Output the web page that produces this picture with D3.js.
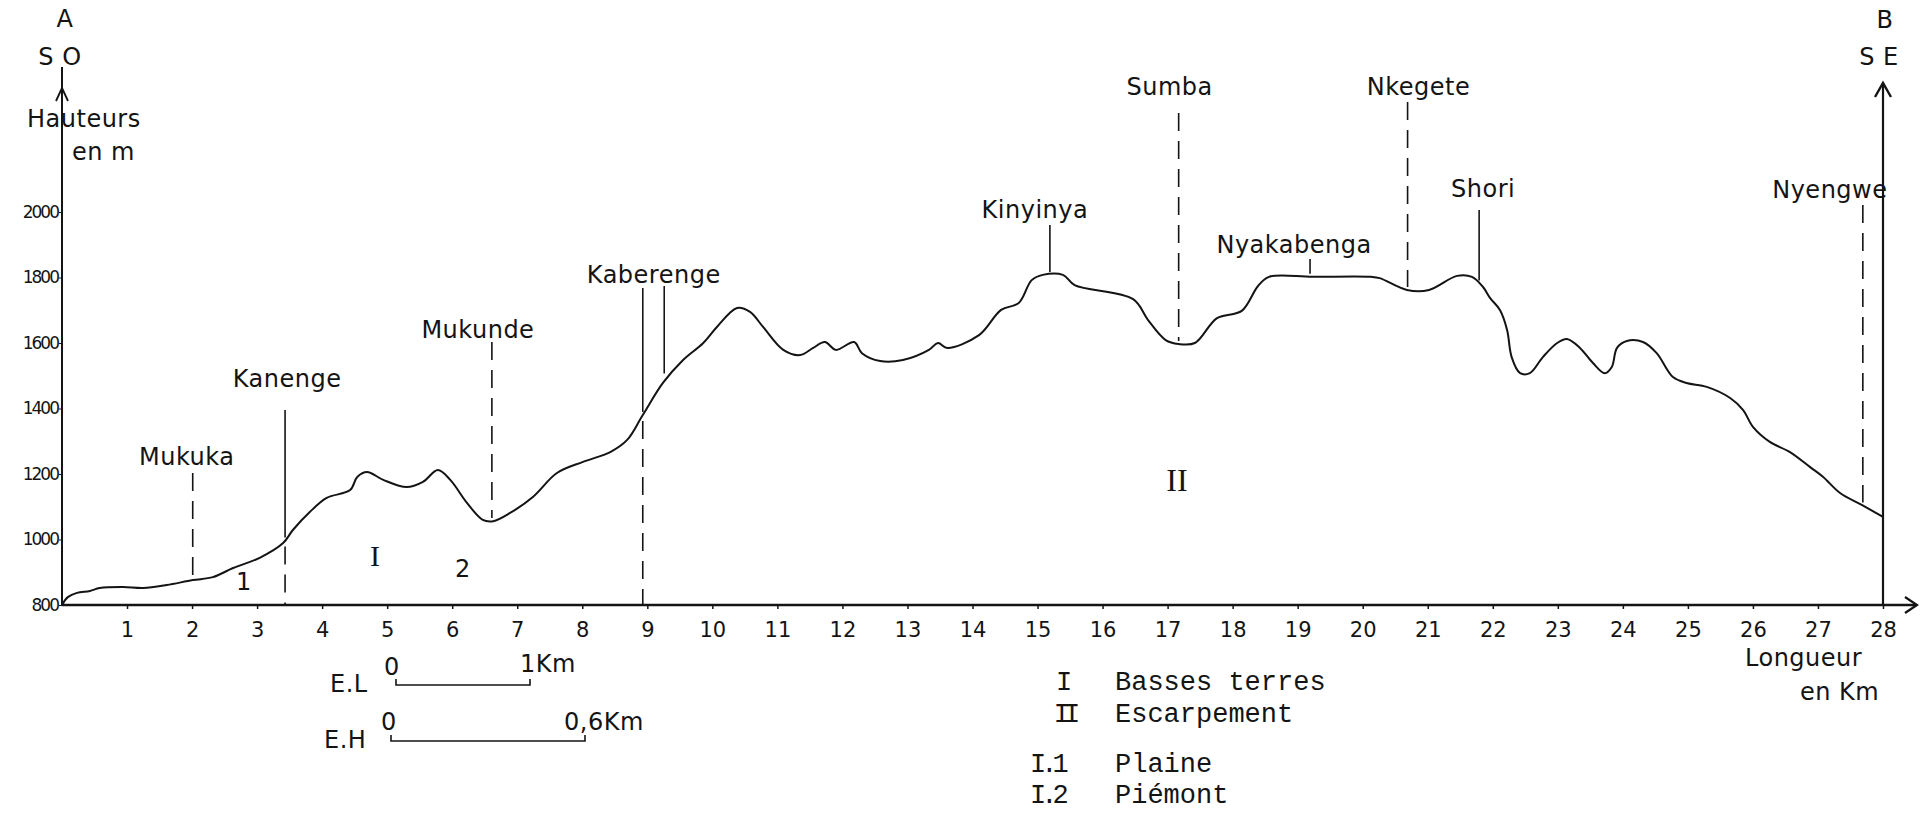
<!DOCTYPE html>
<html>
<head>
<meta charset="utf-8">
<title>Profil topographique A - B</title>
<script src="https://cdn.jsdelivr.net/npm/d3@7"></script>
<style>
  body { margin: 0; background: #fff; }
  svg { display: block; }
  .lettre { font-family: "DejaVu Sans", sans-serif; font-size: 24px; letter-spacing: 0.5px; fill: #141414; }
  .typo { font-family: "Liberation Mono", monospace; font-size: 27px; fill: #141414; }
  .romain { font-family: "Liberation Serif", serif; fill: #141414; }
  .axe text { font-family: "DejaVu Sans", sans-serif; fill: #141414; }
</style>
</head>
<body>
<svg width="1929" height="817"></svg>
<script>
// Profile A (SO) -> B (SE): distance in km, altitude in m
var distances = [0, 0.09, 0.23, 0.43, 0.58, 0.94, 1.25, 1.61, 2.01, 2.32, 2.63, 3.04, 3.40, 3.55, 3.81,
  4.07, 4.43, 4.54, 4.69, 4.94, 5.30, 5.55, 5.78, 5.97, 6.23, 6.47, 6.63, 6.89, 7.24, 7.61,
  8.01, 8.43, 8.69, 8.93, 9.24, 9.55, 9.86, 10.07, 10.38, 10.58, 10.78, 11.09, 11.35, 11.55, 11.73,
  11.90, 12.18, 12.30, 12.58, 12.93, 13.33, 13.47, 13.61, 14.10, 14.44, 14.71, 14.91, 15.08, 15.39,
  15.57, 16.47, 16.70, 16.97, 17.17, 17.42, 17.76, 18.14, 18.39, 18.56, 19.23, 20.13, 20.26, 20.68,
  21.02, 21.45, 21.68, 21.85, 21.96, 22.11, 22.22, 22.29, 22.42, 22.57, 22.77, 22.99, 23.14, 23.34,
  23.54, 23.72, 23.83, 23.91, 24.06, 24.31, 24.52, 24.77, 24.98, 25.29, 25.65, 25.85, 26.00, 26.26,
  26.57, 26.88, 27.08, 27.34, 27.68, 28.00];
var altitudes = [800, 824, 837, 843, 852, 855, 852, 861, 876, 885, 913, 944, 989, 1029, 1084,
  1127, 1151, 1191, 1206, 1182, 1160, 1176, 1212, 1182, 1111, 1060, 1056, 1081, 1130, 1203,
  1237, 1267, 1304, 1380, 1478, 1548, 1600, 1649, 1707, 1695, 1649, 1579, 1563, 1585, 1603,
  1579, 1603, 1569, 1545, 1548, 1579, 1600, 1585, 1624, 1701, 1722, 1792, 1808, 1808,
  1777, 1734, 1670, 1609, 1597, 1600, 1676, 1698, 1774, 1802, 1802, 1802, 1798, 1762,
  1762, 1805, 1802, 1771, 1737, 1701, 1640, 1557, 1508, 1508, 1557, 1600, 1612, 1585,
  1539, 1508, 1527, 1585, 1606, 1603, 1569, 1496, 1478, 1466, 1432, 1395, 1344, 1298,
  1267, 1221, 1191, 1142, 1105, 1069];

var xTicks = d3.range(1, 29);
var yTicks = [800, 1000, 1200, 1400, 1600, 1800, 2000];

// named places along the section
var sites = ["Mukuka", "Kanenge", "Mukunde", "Kaberenge", "Kinyinya", "Sumba", "Nyakabenga", "Nkegete", "Shori", "Nyengwe"];
var siteKm = [2.01, 3.43, 6.61, 8.93, 15.19, 17.17, 19.19, 20.69, 21.79, 27.69];
var extraKm = [9.26]; // second Kaberenge mark

var legendCodes = ["I", "II", "I.1", "I.2"];
var legendTexts = ["Basses terres", "Escarpement", "Plaine", "Piémont"];

// label placement (pixels): dx from mark, label baseline, top of mark, line kind
var siteLayout = {
  "Mukuka":     { dx: -6,  ly: 465, top: 473, kind: "dash" },
  "Kanenge":    { dx: 2,   ly: 387, top: 410, kind: "solid-dash" },
  "Mukunde":    { dx: -14, ly: 338, top: 342, kind: "dash" },
  "Kaberenge":  { dx: 11,  ly: 283, top: 288, kind: "solid-dash" },
  "Kinyinya":   { dx: -15, ly: 218, top: 225, kind: "solid" },
  "Sumba":      { dx: -9,  ly: 95,  top: 113, kind: "dash" },
  "Nyakabenga": { dx: -16, ly: 253, top: 259, kind: "solid" },
  "Nkegete":    { dx: 11,  ly: 95,  top: 102, kind: "dash" },
  "Shori":      { dx: 4,   ly: 197, top: 210, kind: "solid" },
  "Nyengwe":    { dx: -33, ly: 198, top: 205, kind: "dash" }
};

var svg = d3.select("svg");
var ink = "#141414";

var x = d3.scaleLinear().domain([0, 28]).range([62, 1883]);
var y = d3.scaleLinear().domain([800, 2000]).range([605, 212]);

function altAt(km) {
  var i = d3.bisectLeft(distances, km);
  if (i <= 0) return altitudes[0];
  if (i >= distances.length) return altitudes[altitudes.length - 1];
  var t = (km - distances[i - 1]) / (distances[i] - distances[i - 1]);
  return altitudes[i - 1] + t * (altitudes[i] - altitudes[i - 1]);
}

// x axis (ticks + labels), domain drawn by hand with an arrow
var gx = svg.append("g").attr("class", "axe")
    .attr("transform", "translate(0," + y(800) + ")")
    .call(d3.axisBottom(x).tickValues(xTicks).tickSize(4).tickPadding(13).tickFormat(d3.format("d")));
gx.select(".domain").remove();
gx.selectAll("line").attr("stroke", ink).attr("stroke-width", 1.5);
gx.selectAll("text").attr("font-size", 21);

svg.append("line").attr("x1", x(0)).attr("x2", 1917).attr("y1", y(800)).attr("y2", y(800))
  .attr("stroke", ink).attr("stroke-width", 2.5);
svg.append("path").attr("d", "M1905,597 L1917,605 L1905,613")
  .attr("fill", "none").attr("stroke", ink).attr("stroke-width", 2.2);

// y axis left
var gy = svg.append("g").attr("class", "axe")
    .attr("transform", "translate(" + x(0) + ",0)")
    .call(d3.axisLeft(y).tickValues(yTicks).tickSize(3).tickPadding(1).tickFormat(d3.format("d")));
gy.select(".domain").remove();
gy.selectAll("line").attr("stroke", ink);
gy.selectAll("text").attr("font-size", 17).attr("letter-spacing", "-2px");

svg.append("line").attr("x1", x(0)).attr("x2", x(0)).attr("y1", y(800)).attr("y2", 67)
  .attr("stroke", ink).attr("stroke-width", 2);
svg.append("path").attr("d", "M56,101 L62,88 L68,101")
  .attr("fill", "none").attr("stroke", ink).attr("stroke-width", 1.8);

// y axis right (B)
svg.append("line").attr("x1", x(28)).attr("x2", x(28)).attr("y1", y(800)).attr("y2", 83)
  .attr("stroke", ink).attr("stroke-width", 2.2);
svg.append("path").attr("d", "M1875,97 L1883,83 L1891,97")
  .attr("fill", "none").attr("stroke", ink).attr("stroke-width", 2.4);

// axis titles
function lettre(t, px, py, anchor) {
  return svg.append("text").attr("class", "lettre").attr("x", px).attr("y", py)
    .attr("text-anchor", anchor || "start").text(t);
}
lettre("A", 65, 27, "middle");
lettre("S O", 60, 65, "middle").attr("letter-spacing", "4px");
lettre("Hauteurs", 27, 127);
lettre("en  m", 72, 160);
lettre("B", 1885, 28, "middle");
lettre("S  E", 1879, 65, "middle");
lettre("Longueur", 1745, 666);
lettre("en Km", 1800, 700).attr("letter-spacing", "2px");

// profile
var line = d3.line()
  .x(function(d) { return x(d[0]); })
  .y(function(d) { return y(d[1]); })
  .curve(d3.curveCatmullRom.alpha(0.5));
svg.append("path")
  .datum(d3.zip(distances, altitudes))
  .attr("d", line)
  .attr("fill", "none").attr("stroke", ink).attr("stroke-width", 2);

// site marks
var dash = "18,10";
sites.forEach(function(name, i) {
  var L = siteLayout[name], km = siteKm[i], px = x(km), py = y(altAt(km));
  var up = svg.append("line").attr("x1", px).attr("x2", px).attr("y1", L.top).attr("y2", py - 3)
    .attr("stroke", ink).attr("stroke-width", 1.6);
  if (L.kind === "dash") up.attr("stroke-dasharray", dash);
  if (L.kind === "solid-dash") {
    svg.append("line").attr("x1", px).attr("x2", px).attr("y1", py + 6).attr("y2", y(800))
      .attr("stroke", ink).attr("stroke-width", 1.6).attr("stroke-dasharray", dash);
  }
  lettre(name, px + L.dx, L.ly, "middle");
});
extraKm.forEach(function(km) {
  svg.append("line").attr("x1", x(km)).attr("x2", x(km)).attr("y1", 286).attr("y2", y(altAt(km)) - 8)
    .attr("stroke", ink).attr("stroke-width", 1.6);
});

// unit numbers on the section
svg.append("text").attr("class", "lettre").attr("x", 244).attr("y", 590).attr("text-anchor", "middle").text("1");
svg.append("text").attr("class", "lettre").attr("x", 463).attr("y", 577).attr("text-anchor", "middle").text("2");
svg.append("text").attr("class", "romain").attr("font-size", 30).attr("x", 375).attr("y", 566).attr("text-anchor", "middle").text("I");
svg.append("text").attr("class", "romain").attr("font-size", 32).attr("x", 1177).attr("y", 491).attr("text-anchor", "middle").text("II");

// scale bars
function bar(x0, x1, by) {
  svg.append("path").attr("d", "M" + x0 + "," + (by - 6) + " V" + by + " H" + x1 + " V" + (by - 6))
    .attr("fill", "none").attr("stroke", ink).attr("stroke-width", 1.6);
}
lettre("E.L", 330, 692).attr("letter-spacing", "-1px");
lettre("0", 392, 675, "middle");
lettre("1Km", 520, 672).attr("letter-spacing", "-0.5px");
bar(396, 530, 685);
lettre("E.H", 324, 748).attr("letter-spacing", "-1px");
lettre("0", 389, 730, "middle");
lettre("0,6Km", 564, 730).attr("letter-spacing", "-1px");
bar(391, 585, 741);

// legend (typewritten)
var legY = [690, 722, 772, 803];
legendCodes.forEach(function(c, i) {
  var t = svg.append("text").attr("class", "typo").attr("y", legY[i]).text(c);
  if (c.indexOf(".") < 0) {
    t.attr("x", 1064).attr("text-anchor", "middle").attr("letter-spacing", c.length > 1 ? "-6px" : "0");
  } else {
    t.attr("x", 1030).attr("letter-spacing", "-5px");
  }
  svg.append("text").attr("class", "typo").attr("x", 1115).attr("y", legY[i]).text(legendTexts[i]);
});
</script>
</body>
</html>
